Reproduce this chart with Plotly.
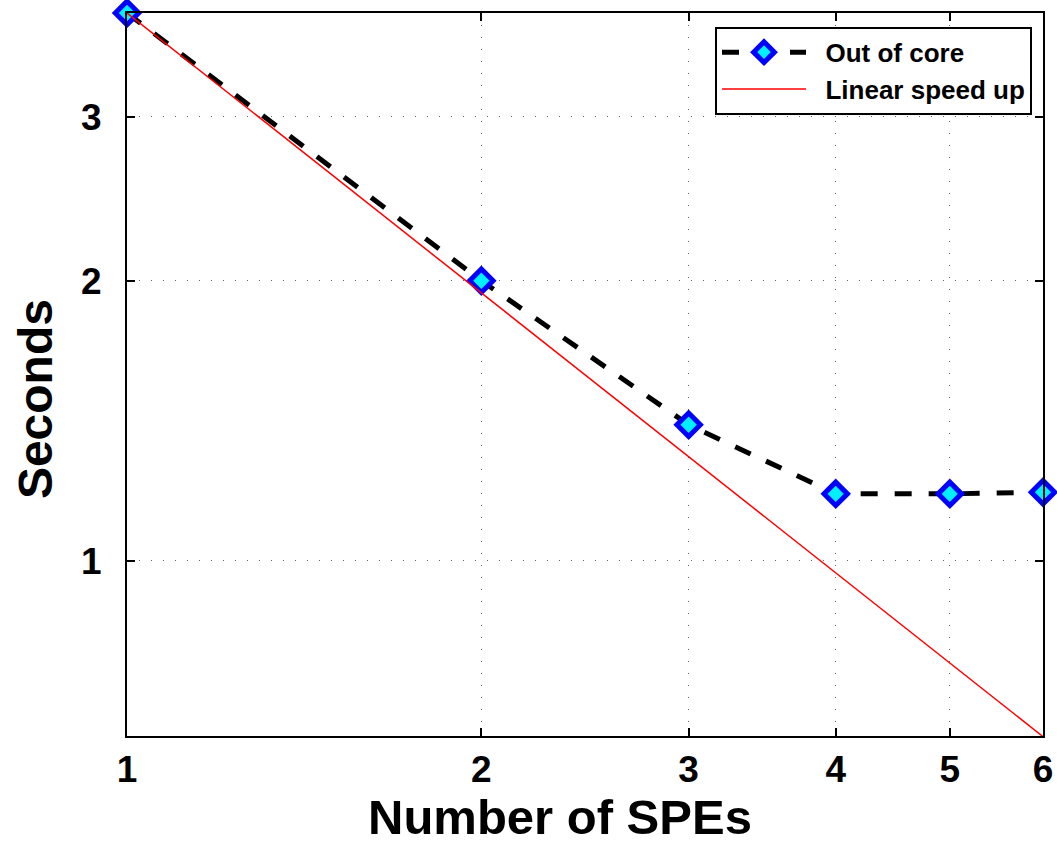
import plotly.graph_objects as go
import numpy as np

# Number of SPEs used in each run
spes = [1, 2, 3, 4, 5, 6]
# Measured run time (seconds), out-of-core version
out_of_core = [3.88, 2.00, 1.40, 1.18, 1.18, 1.185]
# Ideal linear speed-up reference (seconds)
linear_speedup = [3.88, 1.94, 1.293, 0.97, 0.776, 0.647]

x_ticks = [1, 2, 3, 4, 5, 6]
y_ticks = [1, 2, 3]

font_family = "Liberation Sans, Arial, sans-serif"

fig = go.Figure()

fig.add_trace(go.Scatter(
    x=spes, y=out_of_core, mode="lines+markers",
    name="&nbsp;&nbsp;<b>Out of core</b>",
    line=dict(color="black", width=5, dash="17px,17px"),
    marker=dict(symbol="diamond", size=18, color="#00f0ff",
                line=dict(color="#0000ff", width=5)),
    cliponaxis=False,
))

fig.add_trace(go.Scatter(
    x=spes, y=linear_speedup, mode="lines",
    name="&nbsp;&nbsp;<b>Linear speed up</b>",
    line=dict(color="red", width=1.5),
))

axis_common = dict(
    type="log", showline=True, linecolor="black", linewidth=2, mirror="ticks",
    ticks="inside", ticklen=8, tickwidth=1.5, tickcolor="black",
    showgrid=True, gridcolor="#666666", gridwidth=1, griddash="1px,11px",
    zeroline=False, automargin=False,
    tickfont=dict(family=font_family, size=37, color="black", weight="bold"),
)

fig.update_xaxes(
    **axis_common,
    range=[np.log10(1), np.log10(6)],
    tickvals=x_ticks, ticktext=[f"<b>{v}</b>" for v in x_ticks],
)
fig.update_yaxes(
    **axis_common,
    range=[np.log10(0.648), np.log10(3.88)],
    tickvals=y_ticks, ticktext=[f"<b>{v}</b>" for v in y_ticks],
    ticklabelstandoff=16,
)

# Axis titles placed as annotations so their positions can be set freely
fig.add_annotation(
    text="<b>Number of SPEs</b>", xref="paper", yref="paper",
    x=0.4727, y=-0.112, xanchor="center", yanchor="middle", showarrow=False,
    font=dict(family=font_family, size=49, color="black"),
)
fig.add_annotation(
    text="<b>Seconds</b>", xref="paper", yref="paper", textangle=-90,
    x=-0.1004, y=0.466, xanchor="center", yanchor="middle", showarrow=False,
    font=dict(family=font_family, size=48, color="black"),
)

fig.update_layout(
    width=1057, height=848,
    margin=dict(l=127, r=14, t=13, b=112),
    plot_bgcolor="white", paper_bgcolor="white",
    legend=dict(
        x=0.988, y=0.981, xanchor="right", yanchor="top",
        bgcolor="white", bordercolor="black", borderwidth=2,
        font=dict(family=font_family, size=26, color="black"),
        itemwidth=84, tracegroupgap=0,
    ),
)

fig.write_html("out.html")
